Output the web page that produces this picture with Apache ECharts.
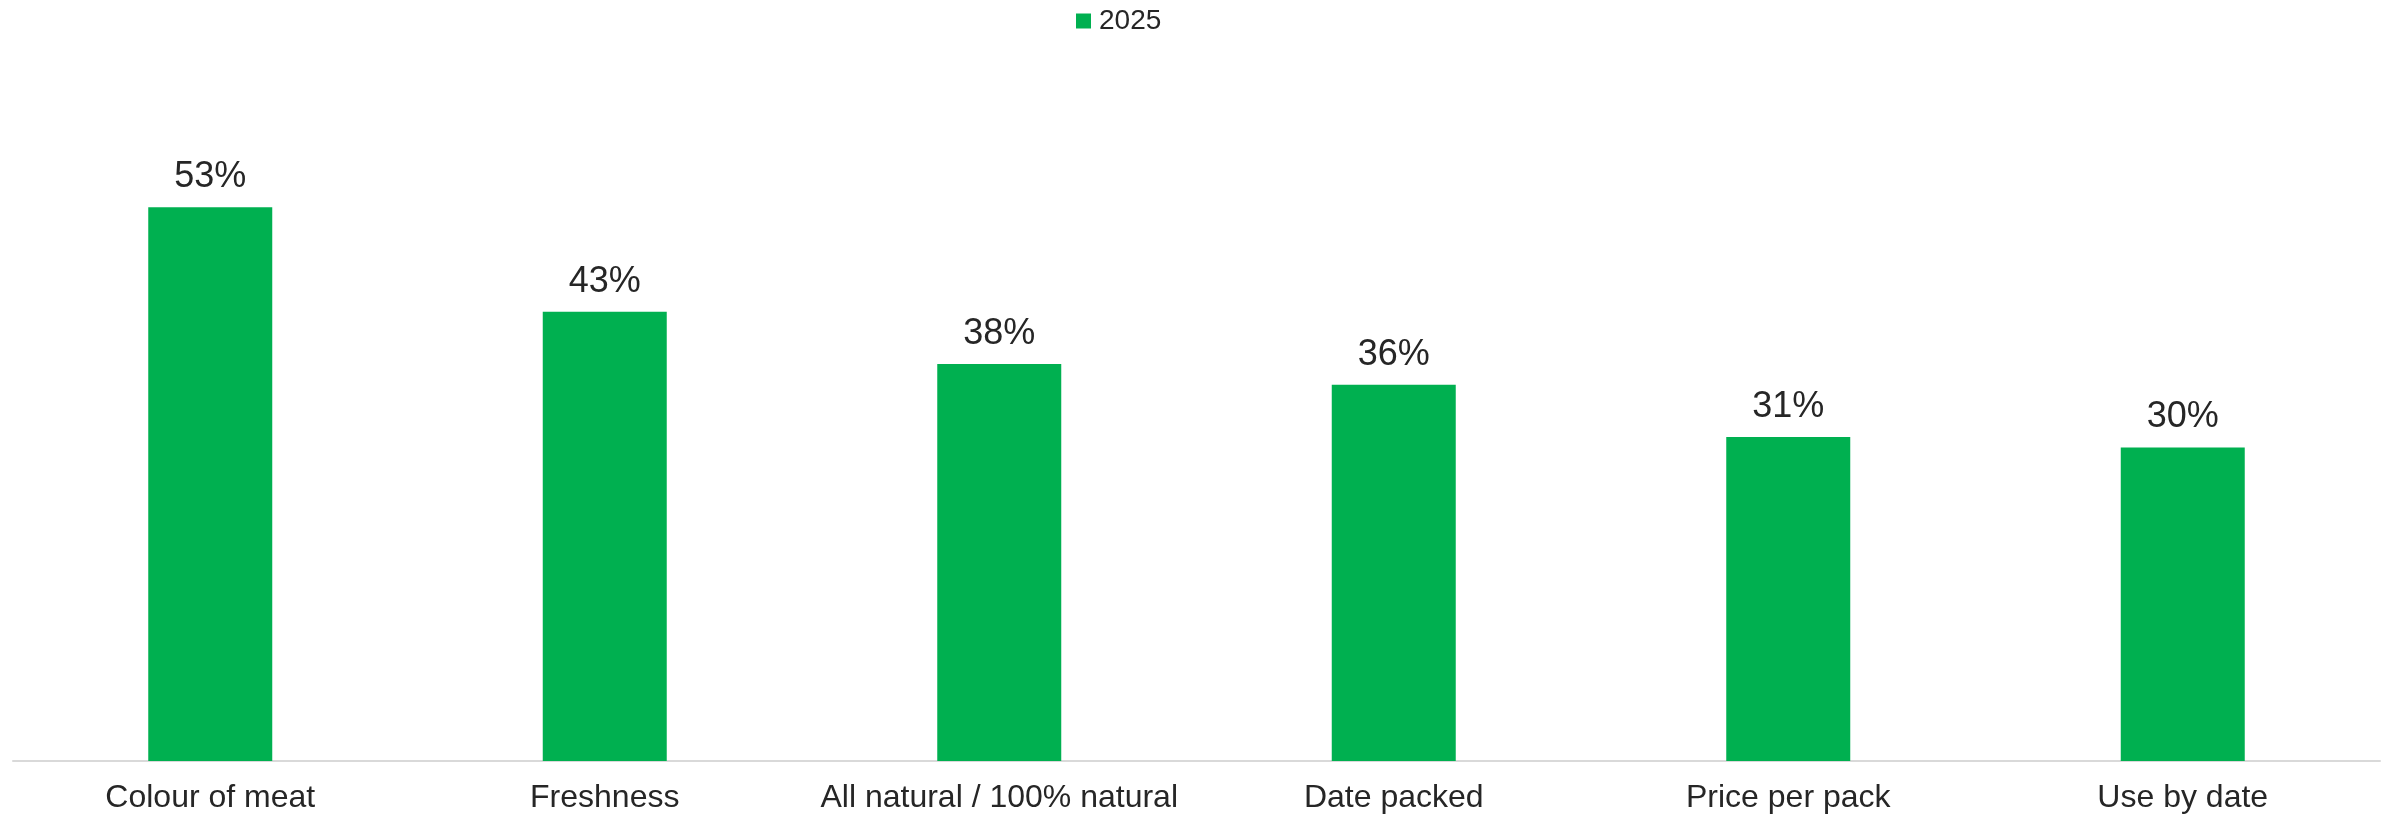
<!DOCTYPE html>
<html>
<head>
<meta charset="utf-8">
<script src="https://cdn.jsdelivr.net/npm/echarts@6/dist/echarts.min.js"></script>
<style>
  html, body { margin: 0; padding: 0; background: #ffffff; }
  #chart { width: 2403px; height: 819px; }
</style>
</head>
<body>
<div id="chart"></div>
<script>
// Attributes considered when buying meat (share of respondents, %)
const categories = ['Colour of meat', 'Freshness', 'All natural / 100% natural', 'Date packed', 'Price per pack', 'Use by date'];
const seriesName = '2025';
const values = [53, 43, 38, 36, 31, 30];

const chart = echarts.init(document.getElementById('chart'));
chart.setOption({
  backgroundColor: '#ffffff',
  animation: false,
  textStyle: { fontFamily: '"Liberation Sans", Arial, sans-serif' },
  legend: {
    top: 2,
    left: 1071,
    itemWidth: 15,
    itemHeight: 15,
    itemGap: 8,
    icon: 'rect',
    textStyle: { fontSize: 28, color: '#262626', padding: [0, 0, 0, 3] },
    data: [seriesName]
  },
  grid: { left: 13, right: 23, top: 134, bottom: 58 },
  xAxis: {
    type: 'category',
    data: categories,
    axisLine: { show: true, lineStyle: { color: '#D9D9D9', width: 2 } },
    axisTick: { show: false },
    axisLabel: { fontSize: 32, color: '#262626', margin: 21, interval: 0 }
  },
  yAxis: {
    type: 'value',
    min: 0,
    max: 60,
    show: false,
    splitLine: { show: false }
  },
  series: [{
    name: seriesName,
    type: 'bar',
    data: values,
    barWidth: 124,
    itemStyle: { color: '#00B050' },
    label: {
      show: true,
      position: 'top',
      distance: 12,
      fontSize: 36,
      color: '#262626',
      formatter: p => p.value + '%'
    }
  }]
});
</script>
</body>
</html>
